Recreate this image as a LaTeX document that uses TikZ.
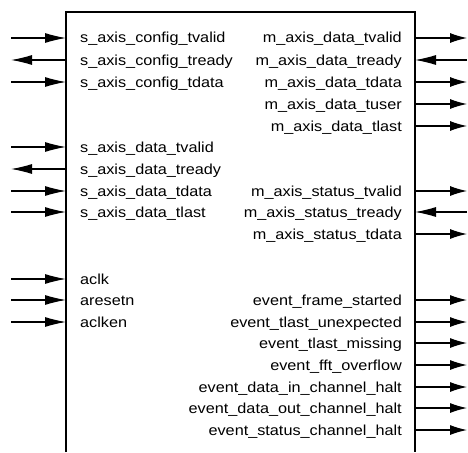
\documentclass[tikz,border=0pt]{standalone}
\usepackage{fontspec}
\setmainfont[FakeStretch=1.12]{Liberation Sans}
\usetikzlibrary{arrows.meta}
\begin{document}
\begin{tikzpicture}[x=1pt,y=-1pt,
  lbl/.style={font=\fontsize{14.5}{16}\selectfont, inner sep=0pt, anchor=base west},
  rlbl/.style={lbl, anchor=base east},
  sig/.style={line width=1.1pt, -{Latex[length=21pt,width=10pt]}},
  sigr/.style={line width=1.1pt, -{Latex[length=17pt,width=10pt]}},
  boxline/.style={line width=1.3pt}
]
\useasboundingbox (0,0) rectangle (468,452);
% block (open at the bottom)
\draw[boxline] (66,452) -- (66,12) -- (415,12) -- (415,452);

% left side labels
\foreach \n/\t/\y in {
  cfgvalid/s\_axis\_config\_tvalid/38,
  cfgready/s\_axis\_config\_tready/60,
  cfgdata/s\_axis\_config\_tdata/82,
  dvalid/s\_axis\_data\_tvalid/147,
  dready/s\_axis\_data\_tready/169,
  ddata/s\_axis\_data\_tdata/191,
  dlast/s\_axis\_data\_tlast/212,
  aclk/aclk/279,
  aresetn/aresetn/300,
  aclken/aclken/322}
{
  \node[lbl] (\n) at (80,\y+5) {\t};
  \coordinate (\n-in) at (66,\y);
  \coordinate (\n-out) at (11,\y);
}

% right side labels
\foreach \n/\t/\y in {
  mvalid/m\_axis\_data\_tvalid/38,
  mready/m\_axis\_data\_tready/60,
  mdata/m\_axis\_data\_tdata/82,
  muser/m\_axis\_data\_tuser/104,
  mlast/m\_axis\_data\_tlast/126,
  svalid/m\_axis\_status\_tvalid/191,
  sready/m\_axis\_status\_tready/212,
  sdata/m\_axis\_status\_tdata/234,
  efs/event\_frame\_started/300,
  etu/event\_tlast\_unexpected/322,
  etm/event\_tlast\_missing/343,
  efo/event\_fft\_overflow/365,
  edin/event\_data\_in\_channel\_halt/387,
  edout/event\_data\_out\_channel\_halt/408,
  esch/event\_status\_channel\_halt/430}
{
  \node[rlbl] (\n) at (402,\y+5) {\t};
  \coordinate (\n-in) at (415,\y);
  \coordinate (\n-out) at (467,\y);
}

% left connectors
\foreach \n in {cfgvalid,cfgdata,dvalid,ddata,dlast,aclk,aresetn,aclken}
  \draw[sig] (\n-out) -- (\n-in);
\foreach \n in {cfgready,dready}
  \draw[sig] (\n-in) -- (\n-out);

% right connectors
\foreach \n in {mvalid,mdata,muser,mlast,svalid,sdata,efs,etu,etm,efo,edin,edout,esch}
  \draw[sigr] (\n-in) -- (\n-out);
\foreach \n in {mready,sready}
  \draw[sig] (\n-out) -- (\n-in);
\end{tikzpicture}
\end{document}
